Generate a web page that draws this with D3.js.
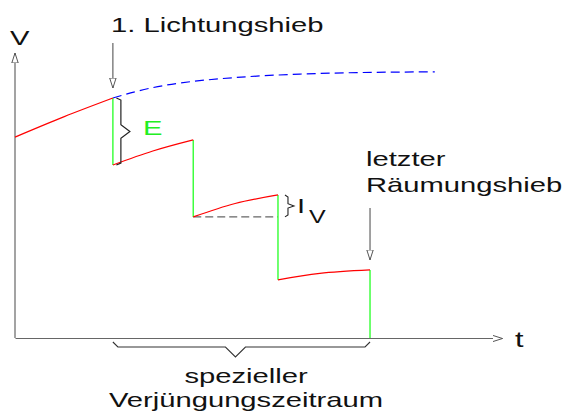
<!DOCTYPE html>
<html>
<head>
<meta charset="utf-8">
<script src="https://cdn.jsdelivr.net/npm/d3@7"></script>
<style>
  body { margin: 0; background: #fff; }
  text { font-family: "Liberation Sans", Arial, sans-serif; fill: #111; }
</style>
</head>
<body>
<div id="chart"></div>
<script>
// Holzvorrat V ueber Zeit t (Schirmschlag), Werte aus der Skizze abgelesen
// t und V in willkuerlichen Einheiten 0..100

// Zuwachs ohne Eingriff (gestrichelt)
var ungestoert = [[20.1, 84.2], [34, 89.5], [58.5, 92.6], [86.2, 93.4]];

// Vorratsentwicklung zwischen den Hieben
var abschnitte = [
	[[0, 70.5], [10, 77.6], [20.1, 84.2]],
	[[20.1, 60.7], [28.3, 65.6], [36.6, 69.5]],
	[[36.6, 42.5], [45.2, 47.2], [54, 50.2]],
	[[54, 20.4], [62.6, 22.7], [72.9, 23.9]]
];

// Hiebe: Zeitpunkt, Vorrat vorher, Vorrat nachher
var hiebe = [
	{t: 20.1, vor: 84.2, nach: 60.7},
	{t: 36.6, vor: 69.5, nach: 42.5},
	{t: 54, vor: 50.2, nach: 20.4},
	{t: 72.9, vor: 23.9, nach: 0}
];

var width = 564, height = 413;
var sx = 1.39; // Schrift ist in der Vorlage breit gezogen

var svg = d3.select("#chart")
	.append("svg")
	.attr("width", width)
	.attr("height", height);

var x = d3.scaleLinear()
	.domain([0, 100])
	.range([15, 502]);

var y = d3.scaleLinear()
	.domain([0, 100])
	.range([338, 53]);

// offene Pfeilspitze
var defs = svg.append("defs");
defs.append("marker")
	.attr("id", "pfeil")
	.attr("markerUnits", "userSpaceOnUse")
	.attr("viewBox", "0 -4 10 8")
	.attr("refX", 10)
	.attr("refY", 0)
	.attr("markerWidth", 10)
	.attr("markerHeight", 8)
	.attr("orient", "auto")
	.append("path")
		.attr("d", "M0,-3.2L10,0L0,3.2Z")
		.attr("fill", "#fff")
		.attr("stroke", "#555")
		.attr("stroke-width", 1);

// Achsen ohne Ticks
var xAxis = d3.axisBottom(x).ticks(0).tickSizeOuter(0);
var yAxis = d3.axisLeft(y).ticks(0).tickSizeOuter(0);

svg.append("g")
	.attr("class", "axis")
	.attr("transform", "translate(0," + y(0) + ")")
	.call(xAxis);

svg.append("g")
	.attr("class", "axis")
	.attr("transform", "translate(" + x(0) + ",0)")
	.call(yAxis);

svg.selectAll(".axis .domain")
	.attr("stroke", "#666")
	.attr("stroke-width", 1.2);

svg.select(".axis .domain").attr("marker-end", "url(#pfeil)");
d3.selectAll(".axis").filter(function(d, i) { return i == 1; })
	.select(".domain")
	.attr("d", "M0," + y(0) + "V" + y(100))
	.attr("marker-end", "url(#pfeil)");

var line = d3.line()
	.curve(d3.curveNatural)
	.x(function(d) { return x(d[0]); })
	.y(function(d) { return y(d[1]); });

// gestrichelte Referenzkurve
svg.append("path")
	.attr("d", line(ungestoert))
	.attr("fill", "none")
	.attr("stroke", "#0000ff")
	.attr("stroke-width", 1.2)
	.attr("stroke-dasharray", "9,5");

// Ausgangsniveau des dritten Abschnitts (Zuwachs Iv)
svg.append("line")
	.attr("x1", x(abschnitte[2][0][0]))
	.attr("x2", x(abschnitte[2][2][0]))
	.attr("y1", y(abschnitte[2][0][1]))
	.attr("y2", y(abschnitte[2][0][1]))
	.attr("stroke", "#666")
	.attr("stroke-width", 1.4)
	.attr("stroke-dasharray", "8,4");

// Hiebe (Vorratsabsenkung)
svg.selectAll(".hieb")
	.data(hiebe)
	.enter()
	.append("line")
	.attr("class", "hieb")
	.attr("x1", function(d) { return x(d.t); })
	.attr("x2", function(d) { return x(d.t); })
	.attr("y1", function(d) { return y(d.vor); })
	.attr("y2", function(d) { return y(d.nach); })
	.attr("stroke", "#33ff33")
	.attr("stroke-width", 1.4);

svg.selectAll(".abschnitt")
	.data(abschnitte)
	.enter()
	.append("path")
	.attr("class", "abschnitt")
	.attr("d", line)
	.attr("fill", "none")
	.attr("stroke", "#ff0000")
	.attr("stroke-width", 1.2);

// geschweifte Klammer, vertikal, Spitze nach rechts
function klammerV(px, y1, y2, w) {
	var m = (y1 + y2) / 2, k = (y2 - y1) * 0.1;
	return "M" + (px - w * 0.5) + "," + y1 +
		"L" + px + "," + (y1 + 2) +
		"L" + px + "," + (m - k) +
		"L" + (px + w) + "," + m +
		"L" + px + "," + (m + k) +
		"L" + px + "," + (y2 - 2) +
		"L" + (px - w * 0.5) + "," + y2;
}

svg.append("path")
	.attr("d", klammerV(x(hiebe[0].t) + 8, y(hiebe[0].vor), y(hiebe[0].nach), 9))
	.attr("fill", "none")
	.attr("stroke", "#222")
	.attr("stroke-width", 1.2);

svg.append("path")
	.attr("d", klammerV(x(hiebe[2].t) + 10, y(hiebe[2].vor), y(abschnitte[2][0][1]), 6))
	.attr("fill", "none")
	.attr("stroke", "#222")
	.attr("stroke-width", 1.1);

// Klammer unter der Zeitachse
var bx1 = x(hiebe[0].t), bx2 = x(hiebe[3].t), by = y(0);
var bm = (bx1 + bx2) / 2 - 6;
svg.append("path")
	.attr("d", "M" + bx1 + "," + (by + 4) + "L" + (bx1 + 5) + "," + (by + 9) +
		"L" + (bm - 10) + "," + (by + 9) + "L" + bm + "," + (by + 19) +
		"L" + (bm + 10) + "," + (by + 9) + "L" + (bx2 - 5) + "," + (by + 9) +
		"L" + bx2 + "," + (by + 4))
	.attr("fill", "none")
	.attr("stroke", "#333")
	.attr("stroke-width", 1.1);

// Pfeile auf die Hiebe
function pfeil(t, v, laenge) {
	svg.append("line")
		.attr("x1", x(t))
		.attr("x2", x(t))
		.attr("y1", y(v) - 10 - laenge)
		.attr("y2", y(v) - 10)
		.attr("stroke", "#555")
		.attr("stroke-width", 1.1)
		.attr("marker-end", "url(#pfeil)");
}
pfeil(hiebe[0].t, hiebe[0].vor, 45);
pfeil(hiebe[3].t, hiebe[3].vor, 52);

// Beschriftung
function beschrift(px, py, txt, size, anchor, farbe) {
	var t = svg.append("text")
		.attr("transform", "translate(" + px + "," + py + ") scale(" + sx + ",1)")
		.attr("text-anchor", anchor || "start")
		.style("font-size", size + "px")
		.text(txt);
	if (farbe) t.style("fill", farbe);
	return t;
}

beschrift(10, 45, "V", 21);
beschrift(515, 347, "t", 22);
beschrift(111, 32, "1. Lichtungshieb", 21);
beschrift(143, 135, "E", 21, "start", "#22ee22");
beschrift(297, 213, "I", 21);
beschrift(309, 223, "V", 18);
beschrift(366, 166, "letzter", 21);
beschrift(366, 192, "Räumungshieb", 21);
beschrift(246, 383, "spezieller", 21, "middle");
beschrift(246, 407, "Verjüngungszeitraum", 21, "middle");
</script>
</body>
</html>
